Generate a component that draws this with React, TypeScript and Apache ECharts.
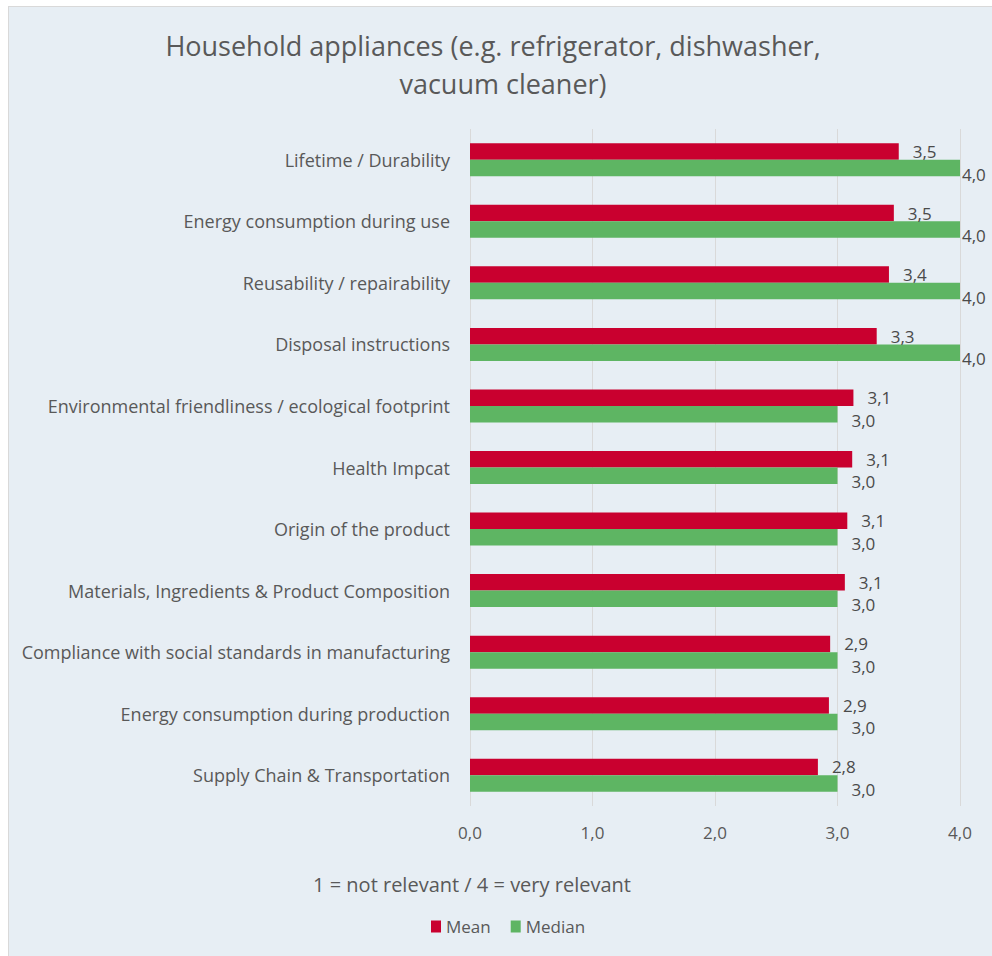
import React, { useEffect, useRef } from "react";
import * as echarts from "echarts";

const categories = [
  "Lifetime / Durability",
  "Energy consumption during use",
  "Reusability / repairability",
  "Disposal instructions",
  "Environmental friendliness / ecological footprint",
  "Health Impcat",
  "Origin of the product",
  "Materials, Ingredients & Product Composition",
  "Compliance with social standards in manufacturing",
  "Energy consumption during production",
  "Supply Chain & Transportation",
];
const meanValues = [3.5, 3.46, 3.42, 3.32, 3.13, 3.12, 3.08, 3.06, 2.94, 2.93, 2.84];
const medianValues = [4, 4, 4, 4, 3, 3, 3, 3, 3, 3, 3];
const xTicks = [0, 1, 2, 3, 4];
const titleLines = ["Household appliances (e.g. refrigerator, dishwasher,", "vacuum cleaner)"];
const axisNote = "1 = not relevant / 4 = very relevant";
const seriesNames = ["Mean", "Median"];

const FONT = "'Open Sans', 'Noto Sans', sans-serif";
const fmt = (v: number) => v.toFixed(1).replace(".", ",");

export default function App() {
  const ref = useRef<HTMLDivElement>(null);
  useEffect(() => {
    if (!ref.current) return;
    const chart = echarts.init(ref.current, undefined, { renderer: "svg" });
    const labelFor = (v: number) => ({
      value: v,
      label: { distance: v >= xTicks[xTicks.length - 1] ? 2 : 14 },
    });
    chart.setOption({
      animation: false,
      backgroundColor: "#E7EEF4",
      textStyle: { fontFamily: FONT },
      graphic: [
        {
          type: "text",
          x: 484,
          y: 38,
          style: {
            text: titleLines[0],
            align: "center",
            verticalAlign: "middle",
            fontSize: 27,
            fontFamily: FONT,
            fill: "#595959",
          },
        },
        {
          type: "text",
          x: 494,
          y: 76,
          style: {
            text: titleLines[1],
            align: "center",
            verticalAlign: "middle",
            fontSize: 27,
            fontFamily: FONT,
            fill: "#595959",
          },
        },
        {
          type: "text",
          x: 463,
          y: 877,
          style: {
            text: axisNote,
            align: "center",
            verticalAlign: "middle",
            fontSize: 20,
            fontFamily: FONT,
            fill: "#595959",
          },
        },
      ],
      legend: {
        data: seriesNames,
        left: 417,
        top: 906,
        icon: "rect",
        itemWidth: 10,
        itemHeight: 12,
        itemGap: 20,
        textStyle: { fontSize: 17, color: "#595959", fontFamily: FONT },
      },
      grid: { left: 461, top: 122, width: 490, height: 677, containLabel: false },
      xAxis: {
        type: "value",
        min: xTicks[0],
        max: xTicks[xTicks.length - 1],
        interval: 1,
        axisLine: { show: false },
        axisTick: { show: false },
        splitLine: { show: true, lineStyle: { color: "#D9D9D9", width: 1 } },
        axisLabel: {
          formatter: (v: number) => fmt(v),
          fontSize: 17,
          color: "#595959",
          margin: 18,
          fontFamily: FONT,
        },
      },
      yAxis: {
        type: "category",
        data: categories,
        inverse: true,
        axisLine: { show: false },
        axisTick: { show: false },
        axisLabel: { fontSize: 18, color: "#595959", margin: 20, fontFamily: FONT },
      },
      series: [
        {
          name: seriesNames[0],
          type: "bar",
          data: meanValues.map(labelFor),
          barWidth: 16.5,
          barGap: "0%",
          itemStyle: { color: "#C9002F" },
          label: {
            show: true,
            position: "right",
            offset: [0, 0],
            formatter: (p: any) => fmt(p.value),
            fontSize: 17,
            color: "#4A4A4A",
            fontFamily: FONT,
          },
        },
        {
          name: seriesNames[1],
          type: "bar",
          data: medianValues.map(labelFor),
          barWidth: 16.5,
          barGap: "0%",
          itemStyle: { color: "#5EB563" },
          label: {
            show: true,
            position: "right",
            offset: [0, 6],
            formatter: (p: any) => fmt(p.value),
            fontSize: 17,
            color: "#4A4A4A",
            fontFamily: FONT,
          },
        },
      ],
    });
    return () => chart.dispose();
  }, []);
  return (
    <div
      style={{
        position: "fixed",
        left: 8,
        top: 6,
        width: 1000,
        height: 960,
        border: "1px solid #D9D9D9",
        boxSizing: "border-box",
        overflow: "hidden",
      }}
    >
      <div ref={ref} style={{ width: 998, height: 958 }} />
    </div>
  );
}
